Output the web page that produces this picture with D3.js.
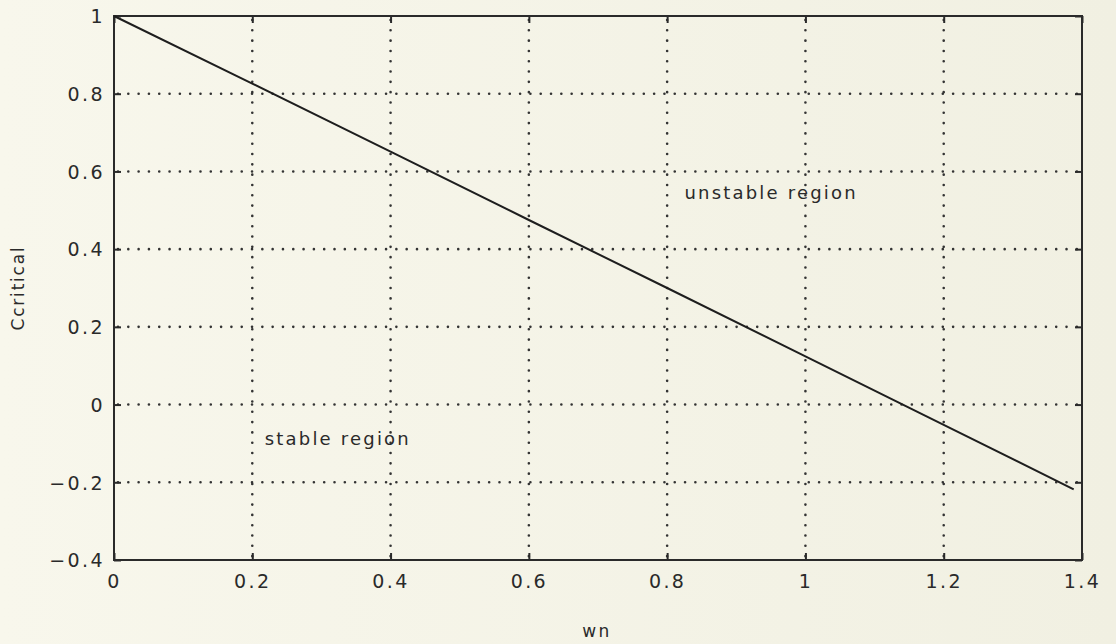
<!DOCTYPE html>
<html>
<head>
<meta charset="utf-8">
<script src="https://cdn.jsdelivr.net/npm/d3@7"></script>
<style>
  html, body { margin: 0; padding: 0; background: #f7f6ea; }
  svg { display: block; }
  text { font-family: "DejaVu Sans", sans-serif; fill: #2a2a2a; }
</style>
</head>
<body>
<svg id="chart" width="1116" height="644"></svg>
<script>
// Critical damping versus natural frequency
const wn = [0, 0.2, 0.4, 0.6, 0.8, 1.0, 1.2, 1.388];
const cCritical = [1.0, 0.826, 0.651, 0.475, 0.300, 0.124, -0.052, -0.218];

const xTicks = [0, 0.2, 0.4, 0.6, 0.8, 1, 1.2, 1.4];
const yTicks = [-0.4, -0.2, 0, 0.2, 0.4, 0.6, 0.8, 1];

const regionLabels = ["stable region", "unstable region"];
const regionX = [0.218, 0.825];
const regionY = [-0.105, 0.530];

const W = 1116, H = 644;
const margin = { left: 114, right: 34, top: 16, bottom: 84 };

const svg = d3.select("#chart");

// soft paper tone
const defs = svg.append("defs");
const grad = defs.append("linearGradient").attr("id", "paper")
  .attr("x1", "0%").attr("x2", "100%").attr("y1", "0%").attr("y2", "0%");
grad.append("stop").attr("offset", "0%").attr("stop-color", "#f8f7ec");
grad.append("stop").attr("offset", "100%").attr("stop-color", "#f1f0e2");
svg.append("rect").attr("width", W).attr("height", H).attr("fill", "url(#paper)");

const x = d3.scaleLinear().domain([0, 1.4]).range([margin.left, W - margin.right]);
const y = d3.scaleLinear().domain([-0.4, 1]).range([H - margin.bottom, margin.top]);

const ink = "#2a2a2a";

// dotted grid
const grid = svg.append("g").attr("stroke", "#333").attr("stroke-width", 2.6)
  .attr("stroke-dasharray", "0.01,10.3").attr("stroke-linecap", "round");
grid.selectAll("line.gx").data(xTicks.slice(1, -1)).join("line").attr("class", "gx")
  .attr("x1", d => x(d)).attr("x2", d => x(d))
  .attr("y1", y(1) + 4).attr("y2", y(-0.4));
grid.selectAll("line.gy").data(yTicks.slice(1, -1)).join("line").attr("class", "gy")
  .attr("y1", d => y(d)).attr("y2", d => y(d))
  .attr("x1", x(0) + 4).attr("x2", x(1.4));

// axes with inward ticks on all four sides
const fmt = d => (d < 0 ? "\u2212" + Math.abs(d) : String(d));
const tickLen = 7;

const axBottom = svg.append("g").attr("transform", `translate(0,${y(-0.4)})`)
  .call(d3.axisBottom(x).tickValues(xTicks).tickSize(-tickLen).tickPadding(15).tickFormat(fmt));
const axTop = svg.append("g").attr("transform", `translate(0,${y(1)})`)
  .call(d3.axisTop(x).tickValues(xTicks).tickSize(-tickLen).tickFormat(""));
const axLeft = svg.append("g").attr("transform", `translate(${x(0)},0)`)
  .call(d3.axisLeft(y).tickValues(yTicks).tickSize(-tickLen).tickPadding(9).tickFormat(fmt));
const axRight = svg.append("g").attr("transform", `translate(${x(1.4)},0)`)
  .call(d3.axisRight(y).tickValues(yTicks).tickSize(-tickLen).tickFormat(""));

[axBottom, axTop, axLeft, axRight].forEach(g => {
  g.select(".domain").remove();
  g.selectAll(".tick line").attr("stroke", ink).attr("stroke-width", 2);
  g.selectAll(".tick text").attr("fill", ink)
    .style("font-size", "19px").style("letter-spacing", "2.4px");
});
axLeft.selectAll(".tick text").attr("dy", "0.36em");

// frame
svg.append("rect")
  .attr("x", x(0)).attr("y", y(1))
  .attr("width", x(1.4) - x(0)).attr("height", y(-0.4) - y(1))
  .attr("fill", "none").attr("stroke", ink).attr("stroke-width", 2);

// curve
svg.append("path").datum(wn.map((w, i) => [w, cCritical[i]]))
  .attr("fill", "none").attr("stroke", "#1e1e1e").attr("stroke-width", 2)
  .attr("d", d3.line().x(d => x(d[0])).y(d => y(d[1])));

// region annotations
svg.selectAll("text.region").data(regionLabels).join("text")
  .attr("class", "region")
  .attr("x", (d, i) => x(regionX[i])).attr("y", (d, i) => y(regionY[i]))
  .style("font-size", "18px").style("letter-spacing", "2.2px")
  .text(d => d);

// axis titles
svg.append("text").attr("x", 597).attr("y", 637)
  .attr("text-anchor", "middle").style("font-size", "17px").style("letter-spacing", "2.5px")
  .text("wn");
svg.append("text")
  .attr("transform", `translate(24,${(y(1) + y(-0.4)) / 2}) rotate(-90)`)
  .attr("text-anchor", "middle").style("font-size", "17px").style("letter-spacing", "1.8px")
  .text("Ccritical");
</script>
</body>
</html>
